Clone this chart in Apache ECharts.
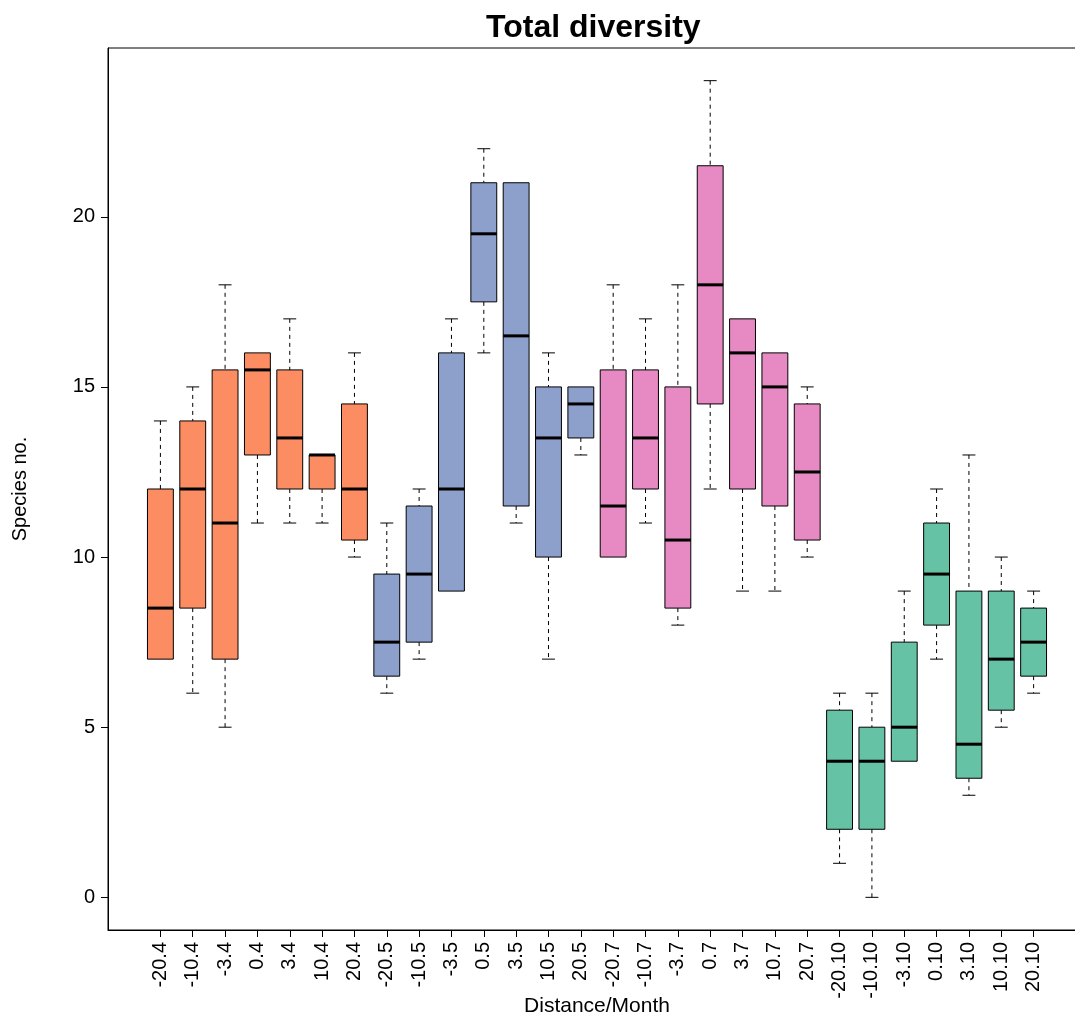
<!DOCTYPE html>
<html>
<head>
<meta charset="utf-8">
<title>Total diversity</title>
<script src="https://cdn.jsdelivr.net/npm/echarts@6/dist/echarts.min.js"></script>
<style>
	html, body { margin: 0; padding: 0; background: #fff; }
	#chart { width: 1075px; height: 1017px; }
</style>
</head>
<body>
<div id="chart"></div>
<script>
// categories: distance.month
var categories = ['-20.4', '-10.4', '-3.4', '0.4', '3.4', '10.4', '20.4',
	'-20.5', '-10.5', '-3.5', '0.5', '3.5', '10.5', '20.5',
	'-20.7', '-10.7', '-3.7', '0.7', '3.7', '10.7', '20.7',
	'-20.10', '-10.10', '-3.10', '0.10', '3.10', '10.10', '20.10'];
var months = ['4', '5', '7', '10'];
// box stats
var lowWhisker = [7, 6, 5, 11, 11, 11, 10, 6, 7, 9, 16, 11, 7, 13, 10, 11, 8, 12, 9, 9, 10, 1, 0, 4, 7, 3, 5, 6];
var q1 = [7, 8.5, 7, 13, 12, 12, 10.5, 6.5, 7.5, 9, 17.5, 11.5, 10, 13.5, 10, 12, 8.5, 14.5, 12, 11.5, 10.5, 2, 2, 4, 8, 3.5, 5.5, 6.5];
var median = [8.5, 12, 11, 15.5, 13.5, 13, 12, 7.5, 9.5, 12, 19.5, 16.5, 13.5, 14.5, 11.5, 13.5, 10.5, 18, 16, 15, 12.5, 4, 4, 5, 9.5, 4.5, 7, 7.5];
var q3 = [12, 14, 15.5, 16, 15.5, 13, 14.5, 9.5, 11.5, 16, 21, 21, 15, 15, 15.5, 15.5, 15, 21.5, 17, 16, 14.5, 5.5, 5, 7.5, 11, 9, 9, 8.5];
var highWhisker = [14, 15, 18, 16, 17, 13, 16, 11, 12, 17, 22, 21, 16, 15, 18, 17, 18, 24, 17, 16, 15, 6, 6, 9, 12, 13, 10, 9];
var yTicks = [0, 5, 10, 15, 20];

var monthColors = ['#FC8D62', '#8DA0CB', '#E78AC3', '#66C2A5'];
var fontName = '"Liberation Sans", Arial, sans-serif';

var xPos = [];
var boxData = [];
for (var i = 0; i < categories.length; i++) {
	xPos.push(i + 1);
	// month group: 7 distances per month
	boxData.push([i + 1, lowWhisker[i], q1[i], median[i], q3[i], highWhisker[i], Math.floor(i / 7)]);
}

var boxHalf = 0.4;   // boxwex 0.8
var capHalf = 0.2;   // staple half width

function renderBox(params, api) {
	var x = api.value(0);
	var lo = api.value(1), b1 = api.value(2), md = api.value(3), b3 = api.value(4), hi = api.value(5);
	var fill = monthColors[api.value(6)];
	var tl = api.coord([x - boxHalf, b3]);
	var br = api.coord([x + boxHalf, b1]);
	var mL = api.coord([x - boxHalf, md]);
	var mR = api.coord([x + boxHalf, md]);
	var children = [];
	var dash = { stroke: '#000', lineWidth: 1, lineDash: [4, 4] };
	var solid = { stroke: '#000', lineWidth: 1 };
	if (hi > b3) {
		var pTop = api.coord([x, hi]);
		var pB3 = api.coord([x, b3]);
		var cL = api.coord([x - capHalf, hi]);
		var cR = api.coord([x + capHalf, hi]);
		children.push({ type: 'line', shape: { x1: pTop[0], y1: pTop[1], x2: pB3[0], y2: pB3[1] }, style: dash });
		children.push({ type: 'line', shape: { x1: cL[0], y1: cL[1], x2: cR[0], y2: cR[1] }, style: solid });
	}
	if (lo < b1) {
		var pBot = api.coord([x, lo]);
		var pB1 = api.coord([x, b1]);
		var dL = api.coord([x - capHalf, lo]);
		var dR = api.coord([x + capHalf, lo]);
		children.push({ type: 'line', shape: { x1: pB1[0], y1: pB1[1], x2: pBot[0], y2: pBot[1] }, style: dash });
		children.push({ type: 'line', shape: { x1: dL[0], y1: dL[1], x2: dR[0], y2: dR[1] }, style: solid });
	}
	children.push({
		type: 'rect',
		shape: { x: tl[0], y: tl[1], width: br[0] - tl[0], height: br[1] - tl[1] },
		style: { fill: fill, stroke: '#000', lineWidth: 1 }
	});
	children.push({ type: 'line', shape: { x1: mL[0], y1: mL[1], x2: mR[0], y2: mR[1] }, style: { stroke: '#000', lineWidth: 3 } });
	return { type: 'group', children: children };
}

var chart = echarts.init(document.getElementById('chart'));
var option = {
	backgroundColor: '#fff',
	animation: false,
	title: {
		text: 'Total diversity',
		left: 481,
		top: 7,
		textStyle: { color: '#000', fontSize: 32, fontWeight: 'bold', fontFamily: fontName }
	},
	grid: {
		left: 108,
		top: 48,
		width: 978,
		height: 882,
		outerBoundsMode: 'none',
		containLabel: false,
		show: true,
		borderColor: '#000',
		borderWidth: 1
	},
	xAxis: {
		type: 'value',
		min: -0.62,
		max: 29.62,
		name: 'Distance/Month',
		nameLocation: 'middle',
		nameGap: 66,
		nameMoveOverlap: false,
		nameTextStyle: { color: '#000', fontSize: 21, fontFamily: fontName, verticalAlign: 'top' },
		axisLine: { show: true, onZero: false, lineStyle: { color: '#000', width: 1 } },
		axisTick: { show: true, length: 7, customValues: xPos, lineStyle: { color: '#000' } },
		axisLabel: {
			show: true,
			customValues: xPos,
			rotate: 90,
			margin: 12,
			color: '#000',
			fontSize: 20,
			fontFamily: fontName,
			formatter: function(v) { return categories[Math.round(v) - 1]; }
		},
		splitLine: { show: false }
	},
	yAxis: {
		type: 'value',
		min: -0.96,
		max: 24.96,
		name: 'Species no.',
		nameLocation: 'middle',
		nameRotate: 90,
		nameGap: 78,
		nameMoveOverlap: false,
		nameTextStyle: { color: '#000', fontSize: 20, fontFamily: fontName },
		axisLine: { show: true, onZero: false, lineStyle: { color: '#000', width: 1 } },
		axisTick: { show: true, length: 7, customValues: yTicks, lineStyle: { color: '#000' } },
		axisLabel: {
			show: true,
			customValues: yTicks,
			margin: 13,
			color: '#000',
			fontSize: 20,
			fontFamily: fontName
		},
		splitLine: { show: false }
	},
	series: [{
		name: 'Total diversity',
		type: 'custom',
		renderItem: renderBox,
		encode: { x: 0, y: [1, 2, 3, 4, 5] },
		data: boxData,
		clip: false
	}]
};
chart.setOption(option);
</script>
</body>
</html>
